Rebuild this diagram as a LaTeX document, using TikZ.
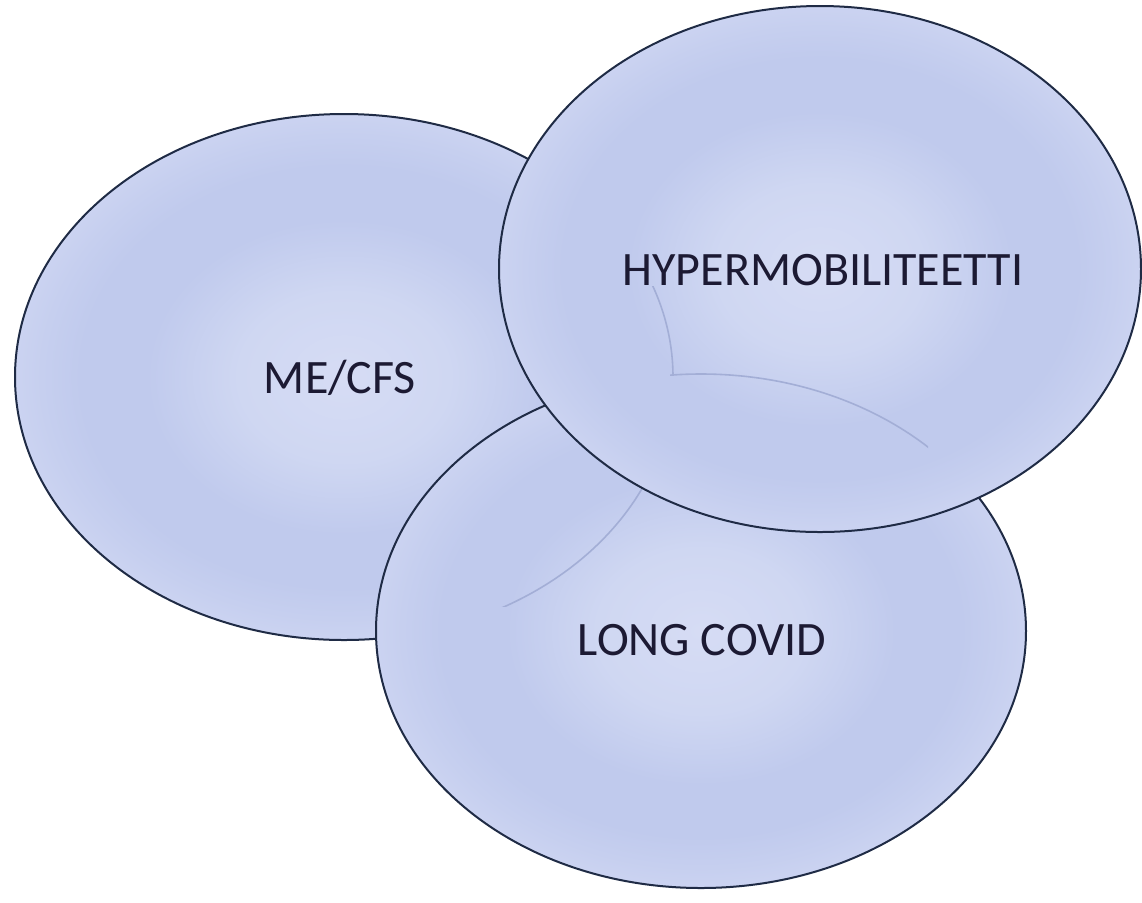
\documentclass[tikz,border=0pt]{standalone}
\usepackage{fontspec}
\setmainfont{Carlito}
\usetikzlibrary{shapes.geometric}

\definecolor{rim}{HTML}{1F2B45}
\definecolor{ink}{HTML}{1C1A33}
\definecolor{ghostc}{HTML}{A3AED6}
\definecolor{bubA}{HTML}{D6DCF4}
\definecolor{bubB}{HTML}{CFD7F2}
\definecolor{bubC}{HTML}{C0CAED}
\definecolor{bubD}{HTML}{C6CFEF}
\definecolor{bubE}{HTML}{CBD3F1}
\pgfdeclareradialshading{bubble}{\pgfpoint{0bp}{0bp}}{color(0bp)=(bubA); color(8bp)=(bubB); color(15bp)=(bubC); color(20bp)=(bubC); color(23bp)=(bubD); color(25bp)=(bubE); color(50bp)=(bubE)}

\tikzset{
	disc/.style={ellipse, draw=rim, line width=1pt, shade, shading=bubble, inner sep=0pt},
	lbl/.style={text=ink, font=\fontsize{24}{28}\selectfont, text depth=0pt},
	ghost/.style={draw=ghostc, line width=0.8pt}
}

\begin{document}
\begin{tikzpicture}[x=0.5pt,y=-0.5pt]
				\useasboundingbox (0,0) rectangle (1142,902);
				% bottom layer
				\node[disc, minimum width=329pt, minimum height=263pt] (me) at (344,377) {};
				\node[lbl] at (340,377) {ME/CFS};
				% middle layer
				\node[disc, minimum width=325pt, minimum height=257pt] (lc) at (701,631) {};
				\begin{scope}
					\clip (490,486) rectangle (660,606);
					\draw[ghost] (me.center) ellipse [x radius=164.5pt, y radius=131.5pt];
				\end{scope}
				\node[lbl] at (702,640) {LONG COVID};
				% top layer
				\node[disc, minimum width=321pt, minimum height=263pt] (hm) at (820,269) {};
				\begin{scope}
					\clip (600,286) rectangle (700,375);
					\draw[ghost] (me.center) ellipse [x radius=164.5pt, y radius=131.5pt];
				\end{scope}
				\begin{scope}
					\clip (670,360) rectangle (928,460);
					\draw[ghost] (lc.center) ellipse [x radius=162.5pt, y radius=128.5pt];
				\end{scope}
				\node[lbl] at (823,270) {HYPERMOBILITEETTI};
\end{tikzpicture}
\end{document}
